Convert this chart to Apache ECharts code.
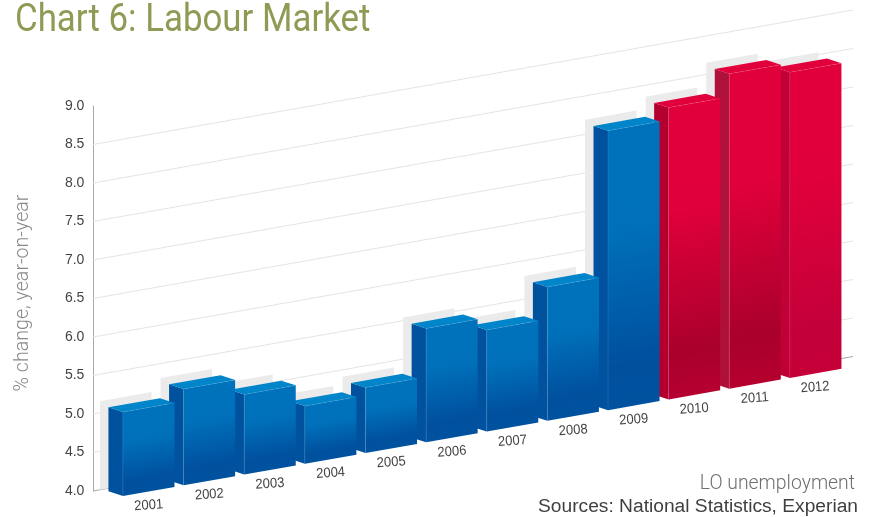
<!DOCTYPE html>
<html>
<head>
<meta charset="utf-8">
<style>html,body{margin:0;padding:0;background:#fff}#chart{width:869px;height:517px}</style>
<script src="https://cdn.jsdelivr.net/npm/echarts@6/dist/echarts.min.js"></script>
</head>
<body>
<div id="chart"></div>
<script>
// LO unemployment by year; 2010 onwards are shown as forecasts in red
const categories = ['2001','2002','2003','2004','2005','2006','2007','2008','2009','2010','2011','2012'];
const unemployment = [5.09,5.25,5.04,4.75,4.85,5.48,5.32,5.74,7.63,7.79,8.09,7.97];
const gridTicks = [4,4.5,5,5.5,6,6.5,7,7.5,8,8.5];
const firstForecast = 9;

// Oblique projection of the floor and the blocks
const SKEW = 0.177;        // rise of the floor per pixel across
const WALL_X = 93;         // x where the axis wall starts
const FRONT_DROP = 10.3;   // front faces sit this far below the wall plane
const DEPTH_X = 14.5, DEPTH_Y = 4.7;
const SHADOW_X = 23, SHADOW_UP = 4.7;
const BAR_RATIO = 0.85;

const blue = {top:'#0085ca', side:'#00529f', stops:['#0072bc','#0070ba','#00509e','#00529f']};
const reds = [
  {top:'#e2003c', side:'#b4002f', stops:['#e2003c','#e0003b','#aa002c','#b80034']},
  {top:'#e2003c', side:'#b0113a', stops:['#e2003c','#e0003b','#aa002c','#b8002f']},
  {top:'#e2003c', side:'#c00036', stops:['#e2003c','#e0003b','#c4003a','#c60038']}
];
const paletteFor = i => i >= firstForecast ? reds[i - firstForecast] : blue;

const shear = x => -SKEW * (x - WALL_X);
const polygon = (points, fill, extra) => Object.assign({
  type:'polygon', shape:{points}, style:{fill}, silent:true
}, extra || {});

function renderBar(params, api) {
  const i = api.value(0), v = api.value(1);
  const c = api.coord([i, v]), base = api.coord([i, 4]);
  const w = api.size([1, 0])[0] * BAR_RATIO;
  const xL = c[0] - w / 2, xR = c[0] + w / 2;
  const front = x => [c[1] + shear(x) + FRONT_DROP, base[1] + shear(x) + FRONT_DROP];
  const [tl, bl] = front(xL), [tr, br] = front(xR);
  const p = paletteFor(i);
  const h = bl - tl;
  const frontFill = new echarts.graphic.LinearGradient(xL, tl, xL + SKEW * h, tl + h, [
    {offset:0, color:p.stops[0]}, {offset:0.35, color:p.stops[1]},
    {offset:0.82, color:p.stops[2]}, {offset:1, color:p.stops[3]}
  ], true);
  const edge = i >= firstForecast ? 'rgba(255,130,150,0.16)' : 'rgba(120,190,235,0.16)';
  return {type:'group', children:[
    polygon([[xL-DEPTH_X,tl-DEPTH_Y],[xL,tl],[xL,bl],[xL-DEPTH_X,bl-DEPTH_Y]], p.side),
    polygon([[xL-DEPTH_X,tl-DEPTH_Y],[xR-DEPTH_X,tr-DEPTH_Y],[xR,tr],[xL,tl]], p.top),
    polygon([[xL,tl],[xR,tr],[xR,br],[xL,bl]], frontFill),
    {type:'polyline', shape:{points:[[xL,bl],[xL,tl],[xR,tr]]}, style:{stroke:edge, fill:null, lineWidth:1}, silent:true}
  ]};
}

function renderShadow(params, api) {
  const i = api.value(0), v = api.value(1);
  const c = api.coord([i, v]), base = api.coord([i, 4]);
  const w = api.size([1, 0])[0] * BAR_RATIO;
  const xL = c[0] - w / 2 - SHADOW_X, xR = xL + w;
  return polygon([
    [xL, c[1] + shear(xL) - SHADOW_UP], [xR, c[1] + shear(xR) - SHADOW_UP],
    [xR, base[1] + shear(xR)], [xL, base[1] + shear(xL)]
  ], '#ebebeb');
}

function renderGridLine(params, api) {
  const v = api.value(1);
  const y = api.coord([0, v])[1];
  const x2 = params.coordSys.x + params.coordSys.width + 7;
  return {type:'line', silent:true,
    shape:{x1:WALL_X, y1:y, x2:x2, y2:y + shear(x2)},
    style:{stroke: v === 4 ? '#a8a8a8' : '#e4e4e4', lineWidth:1}};
}

function renderYearLabel(params, api) {
  const i = api.value(0);
  const base = api.coord([i, 4]);
  return {type:'text', silent:true,
    x: base[0] - 0.2 * (i > 8 ? i - 8 : 0), y: base[1] + shear(base[0]) + FRONT_DROP + 14,
    rotation: 0.07, scaleX: 0.93,
    style:{text:categories[i], font:'14px "Liberation Sans"', fill:'#444', align:'center', verticalAlign:'middle'}};
}

const barData = categories.map((c, i) => [i, unemployment[i]]);
const chart = echarts.init(document.getElementById('chart'), null, {renderer:'canvas'});
chart.setOption({
  animation:false,
  backgroundColor:'#fff',
  grid:{left:118.4, right:23, top:106, bottom:26},
  xAxis:{type:'category', data:categories, show:false},
  yAxis:{
    type:'value', min:4, max:9, interval:0.5, offset:25,
    splitLine:{show:false},
    axisLine:{show:true, lineStyle:{color:'#a8a8a8', width:1}},
    axisTick:{show:false},
    axisLabel:{margin:9, color:'#444', fontFamily:'Liberation Sans', fontSize:14, formatter:v => v.toFixed(1)}
  },
  graphic:[
    {type:'text', x:15, y:21, scaleX:0.917, silent:true,
      style:{text:'Chart 6: Labour Market', font:'400 38px Roboto', fill:'#8f9b55', verticalAlign:'middle'}},
    {type:'text', silent:true, x:23, y:293, rotation:Math.PI/2,
      style:{text:'% change, year-on-year', font:'300 19.6px Roboto', fill:'#8a8a8a', align:'center', verticalAlign:'middle'}},
    {type:'text', silent:true, x:855, y:484.5,
      style:{text:'LO unemployment', font:'300 19.4px Roboto', fill:'#6f6f6f', align:'right', verticalAlign:'middle'}},
    {type:'text', silent:true, x:858, y:507,
      style:{text:'Sources: National Statistics, Experian', font:'19.2px "Liberation Sans"', fill:'#3f3f3f', align:'right', verticalAlign:'middle'}}
  ],
  series:[
    {type:'custom', name:'grid', z:1, renderItem:renderGridLine, clip:false, encode:{x:0,y:1},
      data:gridTicks.map(t => [0, t])},
    {type:'custom', name:'backdrop', z:2, renderItem:renderShadow, clip:false, encode:{x:0,y:1}, data:barData},
    // drawn last year first so each block overlaps the one after it
    {type:'custom', name:'LO unemployment', z:3, renderItem:renderBar, clip:false, encode:{x:0,y:1},
      data:barData.slice().reverse()},
    {type:'custom', name:'years', z:4, renderItem:renderYearLabel, clip:false, encode:{x:0,y:1}, data:barData}
  ]
});
</script>
</body>
</html>
